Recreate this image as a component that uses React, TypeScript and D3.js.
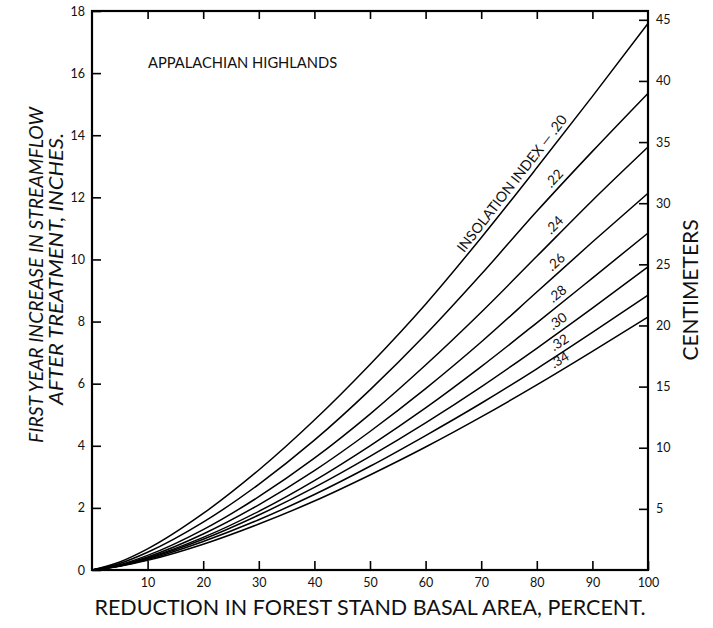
import React, { useRef, useEffect } from 'react';
import * as d3 from 'd3';

// reduction in basal area, percent
const pct = [0, 5, 10, 20, 30, 40, 50, 60, 70, 80, 90, 100];

// first year streamflow increase (inches), one array per insolation index
const ins20 = [0, 0.26, 0.68, 1.82, 3.22, 4.83, 6.62, 8.56, 10.7, 12.95, 15.25, 17.6];
const ins22 = [0, 0.21, 0.57, 1.54, 2.76, 4.18, 5.8, 7.58, 9.52, 11.55, 13.48, 15.35];
const ins24 = [0, 0.17, 0.47, 1.3, 2.36, 3.6, 5.02, 6.6, 8.3, 10.1, 11.9, 13.62];
const ins26 = [0, 0.15, 0.42, 1.16, 2.1, 3.2, 4.46, 5.84, 7.34, 8.95, 10.56, 12.13];
const ins28 = [0, 0.14, 0.39, 1.05, 1.89, 2.88, 4.0, 5.22, 6.55, 7.96, 9.4, 10.85];
const ins30 = [0, 0.14, 0.37, 0.99, 1.77, 2.66, 3.66, 4.74, 5.9, 7.14, 8.43, 9.76];
const ins32 = [0, 0.13, 0.34, 0.92, 1.62, 2.43, 3.34, 4.33, 5.37, 6.48, 7.65, 8.85];
const ins34 = [0, 0.12, 0.31, 0.83, 1.48, 2.22, 3.06, 3.96, 4.93, 5.96, 7.04, 8.15];

const indexLabels = ['INSOLATION INDEX \u2014 .20', '.22', '.24', '.26', '.28', '.30', '.32', '.34'];
const seriesValues = [ins20, ins22, ins24, ins26, ins28, ins30, ins32, ins34];

const inchTicks = [0, 2, 4, 6, 8, 10, 12, 14, 16, 18];
const cmTicks = [5, 10, 15, 20, 25, 30, 35, 40, 45];
const pctTicks = [10, 20, 30, 40, 50, 60, 70, 80, 90, 100];

const font = 'Lato, "Open Sans", sans-serif';

const Chart = ({ width, height }: { width: number; height: number }) => {
    const svg = useRef<SVGSVGElement>(null);

    useEffect(() => {
        const root = d3.select(svg.current);
        root.selectAll('*').remove();

        const left = 92, right = 648, top = 11, bottom = 570;

        const xScale = d3.scaleLinear().domain([0, 100]).range([left, right]);
        const yScale = d3.scaleLinear().domain([0, 18]).range([bottom, top]);
        const cmScale = d3.scaleLinear().domain([0, 18 * 2.54]).range([bottom, top]);

        const styleAxis = (g: any, size: number) => {
            g.select('.domain').remove();
            g.selectAll('line').attr('stroke', '#000').attr('stroke-width', 1.6);
            g.selectAll('text')
                .attr('font-family', font)
                .attr('font-size', size)
                .attr('fill', '#111');
        };

        // left axis, ticks pointing into the plot
        root.append('g')
            .attr('transform', `translate(${left},0)`)
            .call(d3.axisLeft(yScale).tickValues(inchTicks).tickSizeInner(-9).tickSizeOuter(0).tickPadding(7))
            .call((g: any) => styleAxis(g, 12.5));

        // right axis in centimeters
        root.append('g')
            .attr('transform', `translate(${right},0)`)
            .call(d3.axisRight(cmScale).tickValues(cmTicks).tickSizeInner(-9).tickSizeOuter(0).tickPadding(8))
            .call((g: any) => styleAxis(g, 12.5));

        // bottom axis
        root.append('g')
            .attr('transform', `translate(0,${bottom})`)
            .call(d3.axisBottom(xScale).tickValues(pctTicks).tickSizeInner(-9).tickSizeOuter(0).tickPadding(8))
            .call((g: any) => styleAxis(g, 12.5));

        // top axis, ticks only
        root.append('g')
            .attr('transform', `translate(0,${top})`)
            .call(d3.axisTop(xScale).tickValues(pctTicks.slice(0, 9)).tickSizeInner(-8).tickSizeOuter(0).tickFormat(() => ''))
            .call((g: any) => styleAxis(g, 12));

        // frame
        root.append('rect')
            .attr('x', left).attr('y', top)
            .attr('width', right - left).attr('height', bottom - top)
            .attr('fill', 'none').attr('stroke', '#000').attr('stroke-width', 2.2);

        const line = d3.line<number>()
            .x((d, i) => xScale(pct[i]))
            .y(d => yScale(d))
            .curve(d3.curveMonotoneX);

        const curves = root.append('g');
        seriesValues.forEach(vals => {
            curves.append('path')
                .attr('d', line(vals))
                .attr('fill', 'none')
                .attr('stroke', '#000')
                .attr('stroke-width', 1.5);
        });

        // value at a given percent
        const at = (vals: number[], p: number) => {
            const i = Math.min(d3.bisectRight(pct, p) - 1, pct.length - 2);
            const t = (p - pct[i]) / (pct[i + 1] - pct[i]);
            return vals[i] + t * (vals[i + 1] - vals[i]);
        };

        // curve labels sit just above each line, turned to its slope
        const labelAt = [86.3, 84.4, 84.4, 84.6, 84.8, 84.8, 85, 85];
        seriesValues.forEach((vals, i) => {
            const p = labelAt[i];
            const x0 = xScale(p - 2), x1 = xScale(p + 2);
            const y0 = yScale(at(vals, p - 2)), y1 = yScale(at(vals, p + 2));
            const ang = Math.atan2(y1 - y0, x1 - x0) * 180 / Math.PI;
            const px = xScale(p), py = yScale(at(vals, p));
            root.append('text')
                .attr('transform', `translate(${px},${py}) rotate(${ang}) translate(0,-5)`)
                .attr('text-anchor', i === 0 ? 'end' : 'middle')
                .attr('font-family', font)
                .attr('font-size', i === 0 ? 14.2 : 13.5)
                .attr('fill', '#111')
                .text(indexLabels[i]);
        });

        root.append('text')
            .attr('x', 148).attr('y', 68)
            .attr('font-family', font).attr('font-size', 14.7)
            .attr('fill', '#111')
            .text('APPALACHIAN HIGHLANDS');

        // axis titles
        root.append('text')
            .attr('x', 370).attr('y', 615)
            .attr('text-anchor', 'middle')
            .attr('font-family', font).attr('font-size', 21.5)
            .attr('fill', '#111')
            .text('REDUCTION IN FOREST STAND BASAL AREA, PERCENT.');

        root.append('text')
            .attr('transform', 'translate(43,275) rotate(-90)')
            .attr('text-anchor', 'middle')
            .attr('font-family', font).attr('font-size', 19).attr('font-style', 'italic')
            .attr('textLength', 336).attr('lengthAdjust', 'spacingAndGlyphs')
            .attr('fill', '#111')
            .text('FIRST YEAR INCREASE IN STREAMFLOW');

        root.append('text')
            .attr('transform', 'translate(63,269) rotate(-90)')
            .attr('text-anchor', 'middle')
            .attr('font-family', font).attr('font-size', 19).attr('font-style', 'italic')
            .attr('textLength', 272).attr('lengthAdjust', 'spacingAndGlyphs')
            .attr('fill', '#111')
            .text('AFTER TREATMENT, INCHES.');

        root.append('text')
            .attr('transform', 'translate(698,290) rotate(-90)')
            .attr('text-anchor', 'middle')
            .attr('font-family', font).attr('font-size', 21)
            .attr('fill', '#111')
            .text('CENTIMETERS');
    }, []);

    return (
        <svg
            width={width}
            height={height}
            ref={svg}
            style={{ position: 'absolute', left: 0, top: 0, background: '#fff' }}
        >
        </svg>
    );
};

export default function App() {
    return <Chart width={713} height={628} />;
}
